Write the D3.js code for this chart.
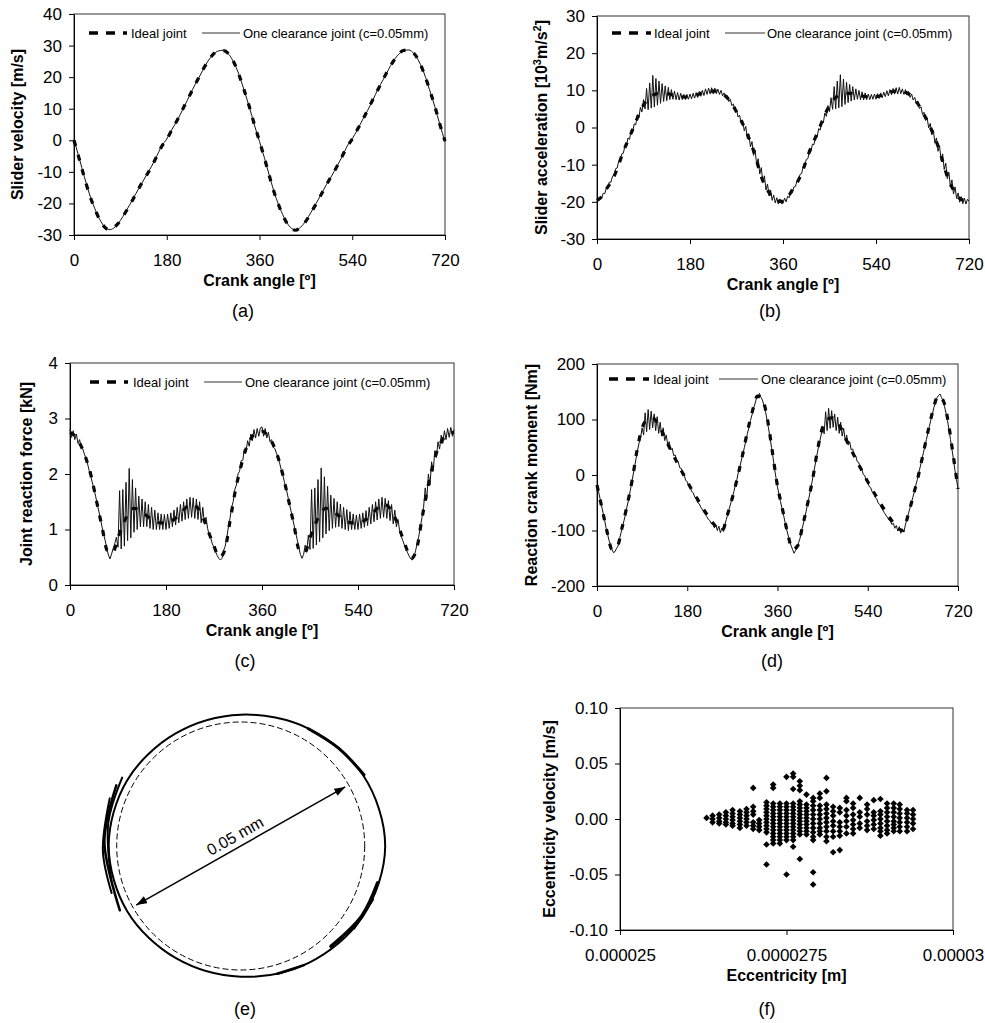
<!DOCTYPE html>
<html>
<head>
<meta charset="utf-8">
<script src="https://cdn.jsdelivr.net/npm/d3@7"></script>
<style>
  body { margin: 0; background: #fff; }
  svg { display: block; font-family: "Liberation Sans", Arial, sans-serif; }
</style>
</head>
<body>
<script>
// ---------------- data ----------------
const angleTicks = [0, 180, 360, 540, 720];
const angle10 = d3.range(0, 721, 10);   // sampling of the ideal curves (deg)
const angle3 = d3.range(0, 721, 3);     // sampling of the clearance curves (deg)

// (a) slider velocity [m/s]
const velIdeal = [0, -5.8, -11.7, -17.2, -21.6, -25.2, -27.6, -28.4, -27.3, -25.5, -22.8, -20.0, -17.0, -14.0, -11.3, -8.5, -5.3, -2.0, 0.3, 3.3,
  6.3, 9.5, 12.8, 16.0, 19.2, 22.3, 25.0, 27.2, 28.4, 28.4, 27.4, 24.8, 20.8, 16.0, 10.8, 5.0, -0.3,
  -5.9, -11.8, -17.3, -21.7, -25.3, -27.7, -28.5, -27.4, -25.6, -22.9, -20.1, -17.1, -14.1, -11.2, -8.4, -5.2, -2.0, 0.4, 3.4, 6.4,
  9.6, 12.9, 16.1, 19.3, 22.4, 25.1, 27.3, 28.5, 28.5, 27.5, 24.9, 20.9, 16.1, 10.9, 5.1, -0.2];
const velClear = [0.2, -5.6, -11.5, -17.0, -21.5, -25.1, -27.5, -28.3, -27.4, -25.4, -22.7, -19.9, -16.9, -14.1, -11.2, -8.4, -5.2, -1.9, 0.4, 3.4,
  6.2, 9.4, 12.7, 16.1, 19.1, 22.2, 25.1, 27.1, 28.3, 28.5, 27.3, 24.7, 20.9, 15.9, 10.7, 4.9, -0.4,
  -5.8, -11.7, -17.2, -21.6, -25.2, -27.6, -28.4, -27.5, -25.5, -22.8, -20.0, -17.0, -14.0, -11.3, -8.3, -5.3, -1.9, 0.5, 3.3, 6.5,
  9.5, 12.8, 16.2, 19.2, 22.3, 25.2, 27.2, 28.4, 28.6, 27.4, 24.8, 21.0, 16.0, 10.8, 5.0, -0.5];

// (b) slider acceleration [10^3 m/s^2]
const accIdeal = [-19.6, -18.5, -16.2, -14.0, -10.8, -6.8, -3.5, -0.2, 3.2, 6.0, 7.8, 8.8, 9.2, 9.2, 9.0, 8.6, 8.3, 8.2, 8.3, 8.6,
  9.1, 9.6, 9.8, 9.8, 9.3, 8.3, 6.6, 4.2, 1.6, -1.5, -5.0, -9.5, -14.0, -16.8, -18.9, -19.8, -19.9,
  -18.6, -16.3, -14.1, -10.9, -6.9, -3.6, -0.3, 3.1, 5.9, 7.8, 8.8, 9.2, 9.2, 9.0, 8.6, 8.3, 8.2, 8.3, 8.6, 9.1,
  9.6, 9.8, 9.8, 9.3, 8.3, 6.6, 4.2, 1.6, -1.5, -5.0, -9.5, -14.0, -16.8, -18.9, -19.6, -19.7];
const accClear = [
  -19.2, -19.8, -18.6, -19.0, -17.7, -17.8, -16.3, -16.3, -14.7, -14.7,
  -13.1, -12.9, -11.1, -10.9, -9.1, -8.9, -7.1, -6.9, -5.0, -5.0,
  -2.8, -3.2, -0.7, -1.3, 1.0, 0.7, 3.4, 2.6, 5.4, 4.2,
  7.5, 5.0, 10.5, 4.8, 12.0, 5.2, 14.0, 5.5, 13.2, 6.0,
  12.5, 6.5, 11.8, 7.0, 11.2, 7.2, 10.8, 7.5, 10.2, 7.6,
  9.8, 7.5, 9.4, 7.4, 9.2, 7.5, 8.9, 7.5, 8.9, 7.6,
  9.0, 7.7, 9.2, 7.9, 9.4, 8.1, 9.7, 8.4, 10.0, 8.6,
  10.4, 8.9, 10.6, 9.0, 10.7, 9.0, 10.6, 9.1, 10.3, 8.9,
  10.0, 8.5, 9.3, 7.9, 8.6, 7.0, 7.6, 5.9, 6.3, 4.5,
  4.8, 2.8, 3.3, 1.1, 1.8, -0.9, 0.3, -3.0, -1.8, -5.2,
  -3.8, -7.5, -6.0, -10.0, -8.4, -12.5, -10.8, -14.8, -13.0, -16.8,
  -15.2, -18.4, -16.8, -19.6, -18.2, -20.3, -18.9, -20.6, -19.2, -20.5,
  -20.4, -19.0, -20.0, -18.5, -18.9, -17.4, -17.6, -16.0, -15.9, -14.4,
  -14.3, -12.6, -12.4, -10.6, -10.4, -8.6, -8.4, -6.6, -6.5, -4.5,
  -4.6, -2.3, -2.7, -0.3, -0.7, 1.8, 1.2, 3.9, 3.0, 5.9,
  4.3, 8.0, 4.9, 11.0, 5.0, 12.5, 5.3, 14.2, 5.6, 13.0,
  6.2, 12.2, 6.7, 11.6, 7.1, 11.0, 7.4, 10.4, 7.6, 10.0,
  7.5, 9.6, 7.4, 9.3, 7.5, 9.0, 7.5, 8.9, 7.6, 9.0,
  7.6, 9.1, 7.8, 9.3, 8.0, 9.5, 8.3, 9.9, 8.5, 10.2,
  8.8, 10.5, 9.0, 10.7, 9.0, 10.8, 9.1, 10.4, 8.9, 10.2,
  8.7, 9.7, 8.1, 9.0, 7.4, 8.1, 6.4, 7.0, 5.1, 5.6,
  3.5, 4.1, 1.9, 2.6, -0.1, 1.1, -2.0, -0.8, -4.2, -2.8,
  -6.4, -4.9, -8.9, -7.1, -11.3, -9.6, -13.8, -12.0, -15.9, -14.1,
  -17.9, -16.0, -19.1, -17.6, -20.1, -18.6, -20.5, -19.0, -20.6, -19.3,
  -19.8];

// (c) joint reaction force [kN]
const forceIdeal = [2.75, 2.68, 2.52, 2.28, 1.95, 1.50, 1.05, 0.62, 0.58, 0.85, 1.10, 1.30, 1.38, 1.35, 1.28, 1.20, 1.14, 1.12, 1.12, 1.15,
  1.22, 1.32, 1.42, 1.45, 1.38, 1.20, 0.95, 0.70, 0.50, 0.62, 1.15, 1.70, 2.12, 2.45, 2.65, 2.75, 2.77,
  2.70, 2.55, 2.30, 1.95, 1.52, 1.08, 0.62, 0.58, 0.85, 1.10, 1.30, 1.38, 1.35, 1.28, 1.20, 1.14, 1.12, 1.12, 1.15, 1.22,
  1.32, 1.42, 1.45, 1.38, 1.20, 0.95, 0.68, 0.48, 0.65, 1.20, 1.72, 2.14, 2.46, 2.64, 2.72, 2.75];
const forceClear = [
  2.80, 2.66, 2.78, 2.62, 2.72, 2.55, 2.62, 2.46, 2.45, 2.36,
  2.28, 2.18, 2.06, 1.96, 1.84, 1.73, 1.60, 1.46, 1.33, 1.20,
  1.05, 0.92, 0.80, 0.66, 0.54, 0.47, 0.56, 0.66, 0.75, 0.86,
  0.68, 1.70, 0.65, 1.72, 0.70, 1.85, 0.80, 2.10, 0.85, 1.90,
  0.95, 1.75, 1.00, 1.60, 1.05, 1.55, 1.05, 1.50, 1.05, 1.45,
  1.02, 1.40, 1.00, 1.35, 1.00, 1.30, 1.00, 1.28, 1.00, 1.27,
  1.00, 1.28, 1.02, 1.30, 1.05, 1.35, 1.08, 1.40, 1.12, 1.45,
  1.15, 1.50, 1.18, 1.55, 1.20, 1.58, 1.22, 1.57, 1.20, 1.55,
  1.18, 1.50, 1.12, 1.40, 1.10, 1.22, 1.02, 0.90, 0.84, 0.74,
  0.68, 0.60, 0.53, 0.48, 0.45, 0.48, 0.62, 0.70, 0.85, 1.05,
  1.20, 1.40, 1.50, 1.72, 1.80, 2.00, 2.05, 2.24, 2.25, 2.45,
  2.40, 2.60, 2.50, 2.72, 2.60, 2.80, 2.65, 2.82, 2.68, 2.83,
  2.85, 2.68, 2.82, 2.65, 2.75, 2.58, 2.62, 2.48, 2.46, 2.38,
  2.30, 2.20, 2.08, 1.98, 1.86, 1.75, 1.62, 1.48, 1.35, 1.22,
  1.08, 0.95, 0.82, 0.68, 0.55, 0.48, 0.55, 0.72, 0.62, 0.90,
  0.64, 1.72, 0.66, 1.75, 0.72, 1.90, 0.78, 2.11, 0.85, 1.95,
  0.92, 1.78, 0.98, 1.62, 1.02, 1.56, 1.04, 1.50, 1.05, 1.46,
  1.02, 1.40, 1.00, 1.36, 0.98, 1.32, 1.00, 1.28, 1.00, 1.26,
  1.00, 1.28, 1.02, 1.30, 1.04, 1.34, 1.07, 1.40, 1.10, 1.45,
  1.14, 1.50, 1.17, 1.55, 1.20, 1.58, 1.22, 1.56, 1.20, 1.52,
  1.16, 1.45, 1.10, 1.35, 1.05, 1.18, 0.98, 0.88, 0.80, 0.72,
  0.65, 0.58, 0.52, 0.47, 0.45, 0.50, 0.62, 0.75, 0.88, 1.05,
  1.22, 1.40, 1.75, 1.55, 2.00, 1.80, 2.22, 2.05, 2.42, 2.30,
  2.58, 2.45, 2.70, 2.55, 2.78, 2.62, 2.82, 2.66, 2.84, 2.68,
  2.80];

// (d) reaction crank moment [Nm]
const momentIdeal = [-18, -60, -102, -134, -130, -95, -55, -10, 45, 85, 100, 103, 95, 78, 58, 40, 22, 5, -12, -28,
  -43, -58, -72, -85, -96, -100, -72, -41, -5, 35, 78, 115, 142, 136, 100, 40, -20,
  -62, -104, -134, -128, -92, -52, -8, 46, 86, 101, 103, 95, 78, 58, 40, 22, 5, -12, -28, -43,
  -58, -72, -85, -96, -100, -74, -40, -5, 36, 78, 116, 142, 135, 98, 38, -25];
const momentClear = [
  -18, -30, -42, -55, -68, -80, -95, -106, -118, -126,
  -134, -140, -138, -132, -128, -115, -104, -92, -82, -70,
  -56, -45, -30, -15, 0, 15, 30, 45, 58, 68,
  85, 72, 112, 78, 118, 82, 115, 85, 110, 80,
  105, 75, 95, 70, 85, 62, 72, 55, 60, 45,
  48, 35, 36, 25, 24, 13, 12, 2, 0, -10,
  -12, -20, -22, -30, -32, -40, -42, -50, -52, -58,
  -62, -67, -71, -75, -80, -82, -88, -86, -95, -90,
  -100, -92, -104, -96, -102, -90, -80, -70, -60, -50,
  -40, -30, -18, -8, 5, 15, 27, 38, 50, 62,
  75, 85, 98, 108, 120, 128, 138, 142, 147, 140,
  135, 125, 115, 100, 85, 68, 50, 32, 12, -5,
  -22, -35, -48, -60, -72, -85, -97, -108, -118, -127,
  -134, -141, -136, -133, -122, -114, -100, -90, -78, -66,
  -52, -40, -26, -12, 3, 18, 33, 47, 60, 72,
  88, 74, 114, 80, 120, 84, 116, 86, 110, 80,
  104, 75, 95, 70, 84, 62, 72, 54, 60, 45,
  47, 34, 35, 24, 23, 12, 11, 1, -1, -11,
  -13, -21, -23, -31, -33, -41, -43, -51, -53, -59,
  -63, -68, -72, -76, -81, -83, -89, -87, -96, -91,
  -101, -93, -105, -97, -103, -90, -80, -70, -60, -50,
  -40, -30, -18, -8, 5, 16, 28, 40, 52, 64,
  76, 88, 100, 110, 122, 130, 139, 143, 146, 140,
  134, 124, 112, 98, 82, 64, 46, 28, 8, -8,
  -25];

// (e) journal centre orbit: eccentricity [mm] at polar angle [deg, clockwise from +x]
const orbitDeg = [0, 30, 60, 90, 120, 150, 180, 210, 240, 270, 300, 330];
const orbitEcc = [0.02913, 0.02843, 0.02726, 0.02635, 0.02611, 0.02639, 0.02661, 0.02645, 0.02621, 0.02647, 0.02734, 0.02851];
const clearanceRadius = 0.025;   // dashed circle, c = 0.05 mm diameter
const orbitWear = [               // heavier overlapping passes of the orbit
  [[206, 0.0279], [182, 0.0275], [152, 0.0276]],
  [[200, 0.0281], [178, 0.0278], [160, 0.0277]],
  [[210, 0.0276], [190, 0.0271], [165, 0.0270]],
  [[15, 0.0286], [30, 0.0282], [48, 0.0272]],
  [[22, 0.0288], [36, 0.0283]],
  [[300, 0.0273], [315, 0.0279], [330, 0.0287]],
  [[62, 0.0272], [74, 0.0268]]
];
const arrowDeg = 330.5;
const arrowEcc = 0.0242;

// (f) eccentricity [m] vs eccentricity velocity [m/s]
const eccX = [0.00002630, 0.00002639, 0.00002649, 0.00002659, 0.00002669, 0.00002680, 0.00002690, 0.00002700,
  0.00002709, 0.00002720, 0.00002730, 0.00002740, 0.00002750, 0.00002760, 0.00002770, 0.00002780,
  0.00002790, 0.00002800, 0.00002810, 0.00002820, 0.00002830, 0.00002840, 0.00002850, 0.00002860,
  0.00002871, 0.00002881, 0.00002891, 0.00002901, 0.00002911, 0.00002920, 0.00002931, 0.00002940];
const eccVel = [
  [0.001],
  [0.003, 0.000, -0.003],
  [0.004, 0.001, -0.002, -0.004],
  [0.006, 0.003, 0.000, -0.003, -0.005],
  [0.008, 0.005, 0.002, -0.001, -0.004, -0.006],
  [0.007, 0.004, 0.001, -0.002, -0.005, -0.008],
  [0.009, 0.006, 0.003, 0.000, -0.003, -0.006],
  [0.028, 0.011, 0.007, 0.004, -0.003, -0.006, -0.009],
  [-0.001, -0.004, -0.007, -0.010],
  [0.015, 0.012, 0.009, 0.006, 0.003, 0.000, -0.003, -0.006, -0.009, -0.012, -0.023, -0.041],
  [0.031, 0.028, 0.014, 0.011, 0.008, 0.005, 0.002, -0.001, -0.004, -0.007, -0.010, -0.013, -0.016, -0.019, -0.022],
  [0.014, 0.011, 0.008, 0.005, 0.002, -0.001, -0.004, -0.007, -0.010, -0.013, -0.016, -0.019, -0.022],
  [0.038, 0.014, 0.011, 0.008, 0.005, 0.002, -0.001, -0.004, -0.007, -0.010, -0.013, -0.016, -0.019, -0.050],
  [0.041, 0.038, 0.027, 0.014, 0.011, 0.008, 0.005, 0.002, -0.001, -0.004, -0.007, -0.010, -0.013, -0.016, -0.019, -0.025],
  [0.034, 0.030, 0.026, 0.016, 0.013, 0.010, 0.007, 0.004, 0.001, -0.002, -0.005, -0.008, -0.011, -0.014, -0.036],
  [0.022, 0.013, 0.010, 0.007, 0.004, 0.001, -0.002, -0.005, -0.008, -0.011, -0.014],
  [0.019, 0.016, 0.012, 0.008, 0.004, 0.000, -0.004, -0.008, -0.012, -0.016, -0.019, -0.048, -0.059],
  [0.023, 0.019, 0.012, 0.008, 0.004, 0.000, -0.004, -0.008, -0.011, -0.014],
  [0.037, 0.025, 0.013, 0.009, 0.005, 0.001, -0.003, -0.007, -0.011, -0.016, -0.020],
  [0.011, 0.007, 0.003, -0.002, -0.006, -0.011, -0.016, -0.030],
  [0.010, 0.006, -0.003, -0.007, -0.011, -0.015, -0.028],
  [0.019, 0.016, 0.008, 0.003, -0.002, -0.007, -0.013],
  [0.014, 0.010, 0.004, -0.001, -0.005, -0.009, -0.013],
  [0.019, 0.006, 0.002, -0.004, -0.008],
  [0.013, 0.009, 0.004, -0.002, -0.006, -0.010],
  [0.017, 0.006, 0.003, -0.001, -0.005, -0.009],
  [0.018, 0.007, 0.004, 0.000, -0.004, -0.008, -0.011, -0.015],
  [0.014, 0.010, 0.006, 0.002, -0.002, -0.006, -0.010, -0.013],
  [0.014, 0.010, 0.006, 0.002, -0.002, -0.005, -0.008, -0.011],
  [0.013, 0.009, 0.005, 0.001, -0.003, -0.007, -0.011],
  [0.008, 0.005, 0.001, -0.003, -0.007, -0.011],
  [0.008, 0.004, 0.000, -0.004, -0.009]
];
const eccTicks = [0.000025, 0.0000275, 0.00003];
const eccTickLabels = ["0.000025", "0.0000275", "0.00003"];
const eccVelTicks = [-0.1, -0.05, 0, 0.05, 0.1];
const eccVelTickLabels = ["-0.10", "-0.05", "0.00", "0.05", "0.10"];

// ---------------- drawing ----------------
const FONT = "Liberation Sans, Arial, sans-serif";
const svg = d3.select("body").append("svg")
  .attr("width", 985)
  .attr("height", 1023);

svg.append("rect").attr("width", 985).attr("height", 1023).attr("fill", "#fff");

function styleAxis(a) {
  a.attr("font-size", 17).attr("font-family", FONT);
  a.selectAll("text").attr("fill", "#000");
  a.selectAll("line").attr("stroke", "#000");
  a.select(".domain").attr("stroke", "#000");
}

function frameAndAxes(g, p, x, y, xTicks, xFmt, yTicks, yFmt) {
  g.append("rect")
    .attr("x", p.left).attr("y", p.top)
    .attr("width", p.right - p.left).attr("height", p.bottom - p.top)
    .attr("fill", "none").attr("stroke", "#333").attr("stroke-width", 1);

  const ax = g.append("g")
    .attr("transform", `translate(0,${p.bottom})`)
    .call(d3.axisBottom(x).tickValues(xTicks).tickFormat(xFmt).tickSize(5).tickPadding(14).tickSizeOuter(0));
  styleAxis(ax);

  const ay = g.append("g")
    .attr("transform", `translate(${p.left},0)`)
    .call(d3.axisLeft(y).tickValues(yTicks).tickFormat(yFmt).tickSize(5).tickPadding(7).tickSizeOuter(0));
  styleAxis(ay);
}

function yTitle(g, p, parts) {
  const t = g.append("text")
    .attr("transform", `translate(${p.titleX},${(p.top + p.bottom) / 2}) rotate(-90)`)
    .attr("text-anchor", "middle")
    .attr("font-size", 16)
    .attr("font-weight", "bold");
  parts.forEach(pt => {
    const s = t.append("tspan").text(pt.t);
    if (pt.sup) s.attr("dy", -6).attr("font-size", 11);
    if (pt.down) s.attr("dy", 6);
  });
}

function xTitle(g, p, label) {
  g.append("text")
    .attr("x", (p.left + p.right) / 2)
    .attr("y", p.bottom + 51)
    .attr("text-anchor", "middle")
    .attr("font-size", 16)
    .attr("font-weight", "bold")
    .text(label);
}

function caption(g, c) {
  g.append("text")
    .attr("x", c.x).attr("y", c.y)
    .attr("text-anchor", "middle")
    .attr("font-size", 18)
    .text(c.text);
}

const linePanels = [
  { left: 74, right: 445, top: 14, bottom: 235, yDomain: [-30, 40], yTicks: [-30, -20, -10, 0, 10, 20, 30, 40],
    ideal: velIdeal, clear: velClear, clearX: angle10, smoothClear: true, titleX: 23,
    title: [{ t: "Slider velocity [m/s]" }],
    legend: { y: 33, d0: 89, d1: 127, t0: 131, s0: 202, s1: 240, t1: 243 },
    cap: { x: 243, y: 317, text: "(a)" } },
  { left: 597, right: 969, top: 16, bottom: 239, yDomain: [-30, 30], yTicks: [-30, -20, -10, 0, 10, 20, 30],
    ideal: accIdeal, clear: accClear, clearX: angle3, titleX: 547,
    title: [{ t: "Slider acceleration [10" }, { t: "3", sup: true }, { t: "m/s", down: true }, { t: "2", sup: true }, { t: "]", down: true }],
    legend: { y: 33, d0: 612, d1: 651, t0: 654, s0: 725, s1: 765, t1: 767 },
    cap: { x: 770, y: 317, text: "(b)" } },
  { left: 70, right: 454, top: 363, bottom: 585, yDomain: [0, 4], yTicks: [0, 1, 2, 3, 4],
    ideal: forceIdeal, clear: forceClear, clearX: angle3, titleX: 32,
    title: [{ t: "Joint reaction force [kN]" }],
    legend: { y: 382, d0: 90, d1: 128, t0: 133, s0: 204, s1: 242, t1: 245 },
    cap: { x: 245, y: 667, text: "(c)" } },
  { left: 597, right: 958, top: 364, bottom: 586, yDomain: [-200, 200], yTicks: [-200, -100, 0, 100, 200],
    ideal: momentIdeal, clear: momentClear, clearX: angle3, titleX: 537,
    title: [{ t: "Reaction crank moment [Nm]" }],
    legend: { y: 379, d0: 609, d1: 649, t0: 653, s0: 719, s1: 758, t1: 761 },
    cap: { x: 772, y: 667, text: "(d)" } }
];

linePanels.forEach(p => {
  const g = svg.append("g");
  const x = d3.scaleLinear().domain([0, 720]).range([p.left, p.right]);
  const y = d3.scaleLinear().domain(p.yDomain).range([p.bottom, p.top]);

  frameAndAxes(g, p, x, y, angleTicks, d => String(d), p.yTicks, d => String(d));

  // ideal joint: thick dashed
  g.append("path")
    .datum(p.ideal)
    .attr("d", d3.line().x((d, i) => x(angle10[i])).y(d => y(d)).curve(d3.curveMonotoneX))
    .attr("fill", "none")
    .attr("stroke", "#000")
    .attr("stroke-width", 3.2)
    .attr("stroke-dasharray", "6,9");

  // one clearance joint: thin solid
  g.append("path")
    .datum(p.clear)
    .attr("d", d3.line().x((d, i) => x(p.clearX[i])).y(d => y(d))
      .curve(p.smoothClear ? d3.curveMonotoneX : d3.curveLinear))
    .attr("fill", "none")
    .attr("stroke", "#111")
    .attr("stroke-width", 1);

  // legend
  const L = p.legend;
  g.append("line").attr("x1", L.d0).attr("x2", L.d1).attr("y1", L.y).attr("y2", L.y)
    .attr("stroke", "#000").attr("stroke-width", 3.5).attr("stroke-dasharray", "9,8");
  g.append("text").attr("x", L.t0).attr("y", L.y).attr("dy", "0.35em")
    .attr("font-size", 13).text("Ideal joint");
  g.append("line").attr("x1", L.s0).attr("x2", L.s1).attr("y1", L.y).attr("y2", L.y)
    .attr("stroke", "#333").attr("stroke-width", 1);
  g.append("text").attr("x", L.t1).attr("y", L.y).attr("dy", "0.35em")
    .attr("font-size", 13).text("One clearance joint (c=0.05mm)");

  yTitle(g, p, p.title);
  xTitle(g, p, "Crank angle [º]");
  caption(g, p.cap);
});

// ---- (e) journal orbit inside the bearing clearance ----
(function () {
  const g = svg.append("g");
  const cx = 240.7, cy = 846;
  const r = d3.scaleLinear().domain([0, clearanceRadius]).range([0, 124]);
  const px = (deg, e) => cx + r(e) * Math.cos(deg * Math.PI / 180);
  const py = (deg, e) => cy + r(e) * Math.sin(deg * Math.PI / 180);

  // clearance circle (dashed)
  g.append("circle")
    .attr("cx", cx).attr("cy", cy).attr("r", r(clearanceRadius))
    .attr("fill", "none").attr("stroke", "#000").attr("stroke-width", 1)
    .attr("stroke-dasharray", "6,3");

  // orbit
  const orbit = orbitDeg.map((d, i) => [px(d, orbitEcc[i]), py(d, orbitEcc[i])]);
  g.append("path")
    .attr("d", d3.line().curve(d3.curveCatmullRomClosed)(orbit))
    .attr("fill", "none").attr("stroke", "#000").attr("stroke-width", 2);

  const wearWidth = [2.5, 2, 2, 3.5, 2, 3, 2.5];
  orbitWear.forEach((seg, k) => {
    const pts = seg.map(s => [px(s[0], s[1]), py(s[0], s[1])]);
    g.append("path")
      .attr("d", d3.line().curve(d3.curveCatmullRom)(pts))
      .attr("fill", "none").attr("stroke", "#000")
      .attr("stroke-width", wearWidth[k]).attr("stroke-linecap", "round");
  });

  // double arrow with the clearance size
  const defs = svg.append("defs");
  defs.append("marker")
    .attr("id", "arrowhead")
    .attr("markerUnits", "userSpaceOnUse")
    .attr("markerWidth", 11).attr("markerHeight", 8)
    .attr("refX", 11).attr("refY", 4)
    .attr("orient", "auto-start-reverse")
    .append("path").attr("d", "M0,0 L11,4 L0,8 Z").attr("fill", "#000");

  const x1 = px(arrowDeg + 180, arrowEcc), y1 = py(arrowDeg + 180, arrowEcc);
  const x2 = px(arrowDeg, arrowEcc), y2 = py(arrowDeg, arrowEcc);
  g.append("line")
    .attr("x1", x1).attr("y1", y1).attr("x2", x2).attr("y2", y2)
    .attr("stroke", "#000").attr("stroke-width", 1.5)
    .attr("marker-start", "url(#arrowhead)").attr("marker-end", "url(#arrowhead)");

  const ang = arrowDeg - 360;
  const nx = Math.sin(ang * Math.PI / 180), ny = -Math.cos(ang * Math.PI / 180);
  g.append("text")
    .attr("transform", `translate(${cx + nx * 6},${cy + ny * 6}) rotate(${ang})`)
    .attr("text-anchor", "middle")
    .attr("font-size", 16)
    .text("0.05 mm");

  caption(g, { x: 245, y: 1015, text: "(e)" });
})();

// ---- (f) eccentricity phase plot ----
(function () {
  const p = { left: 620, right: 953, top: 708, bottom: 930, titleX: 555 };
  const g = svg.append("g");
  const x = d3.scaleLinear().domain([0.000025, 0.00003]).range([p.left, p.right]);
  const y = d3.scaleLinear().domain([-0.1, 0.1]).range([p.bottom, p.top]);

  frameAndAxes(g, p, x, y,
    eccTicks, (d, i) => eccTickLabels[i],
    eccVelTicks, (d, i) => eccVelTickLabels[i]);

  const pts = [];
  eccX.forEach((ex, i) => eccVel[i].forEach(v => pts.push([ex, v])));

  g.append("g").selectAll("path")
    .data(pts)
    .enter().append("path")
    .attr("transform", d => `translate(${x(d[0])},${y(d[1])}) rotate(45)`)
    .attr("d", d3.symbol(d3.symbolSquare, 22))
    .attr("fill", "#000");

  yTitle(g, p, [{ t: "Eccentricity velocity [m/s]" }]);
  xTitle(g, p, "Eccentricity [m]");
  caption(g, { x: 767, y: 1015, text: "(f)" });
})();
</script>
</body>
</html>
